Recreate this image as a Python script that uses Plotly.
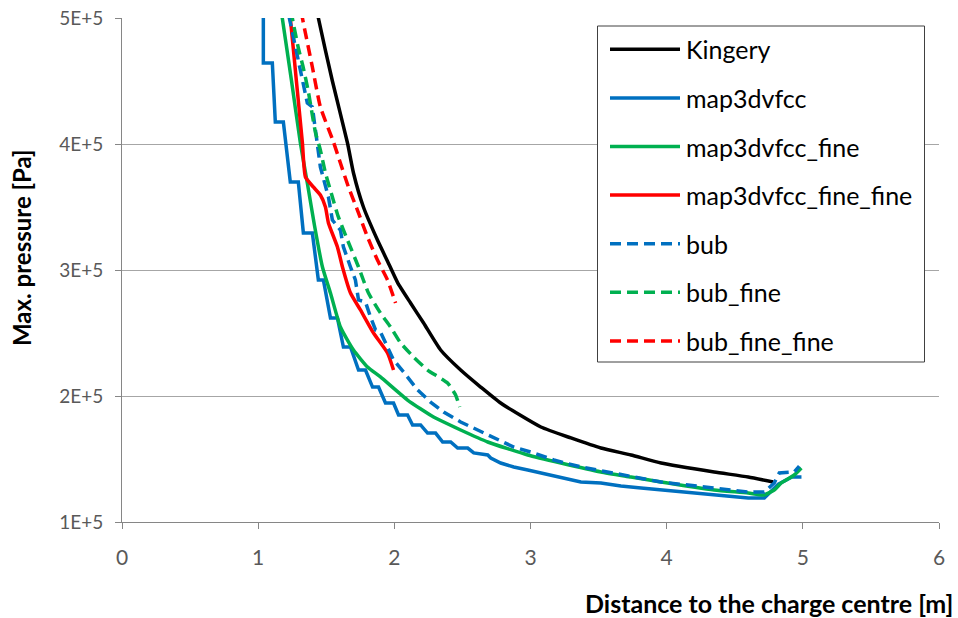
import plotly.graph_objects as go

# Peak overpressure versus distance from the charge centre
kingery_x = [1.43, 1.442, 1.545, 1.656, 1.700, 1.773, 1.876, 1.950, 2.024, 2.119, 2.215,
             2.340, 2.487, 2.634, 2.781, 3.076, 3.297, 3.517, 3.738, 3.959, 4.349, 4.599, 4.783]
kingery_p = [5.08, 5.00, 4.50, 4.008, 3.770, 3.500, 3.238, 3.070, 2.900, 2.738, 2.579,
             2.365, 2.206, 2.071, 1.944, 1.754, 1.667, 1.587, 1.532, 1.468, 1.397, 1.357, 1.317]

map3d_x = [1.038, 1.038, 1.104, 1.126, 1.185, 1.236, 1.295, 1.332, 1.398, 1.442, 1.479, 1.531,
           1.582, 1.626, 1.678, 1.737, 1.788, 1.840, 1.884, 1.935, 1.994, 2.031, 2.097, 2.134,
           2.193, 2.244, 2.303, 2.355, 2.414, 2.465, 2.539, 2.583, 2.686, 2.708, 2.781, 2.877,
           2.980, 3.076, 3.201, 3.370, 3.517, 3.664, 3.812, 3.959, 4.106, 4.349, 4.599, 4.717,
           4.82, 4.92, 4.99]
map3d_p = [5.30, 4.643, 4.643, 4.175, 4.175, 3.698, 3.698, 3.294, 3.294, 2.921, 2.921, 2.619,
           2.619, 2.389, 2.389, 2.206, 2.206, 2.071, 2.071, 1.944, 1.944, 1.849, 1.849, 1.770,
           1.770, 1.706, 1.706, 1.635, 1.635, 1.587, 1.587, 1.548, 1.532, 1.508, 1.468, 1.437,
           1.413, 1.389, 1.357, 1.317, 1.310, 1.286, 1.270, 1.254, 1.238, 1.214, 1.190, 1.190,
           1.300, 1.357, 1.357]

map3d_fine_x = [1.16, 1.177, 1.244, 1.310, 1.361, 1.413, 1.472, 1.531, 1.604, 1.700, 1.803, 1.898,
                2.097, 2.288, 2.487, 2.686, 2.980, 3.223, 3.517, 3.738, 3.959, 4.349, 4.599, 4.709,
                4.790, 4.842, 4.937, 4.989]
map3d_fine_p = [5.12, 5.00, 4.508, 4.008, 3.690, 3.357, 3.024, 2.817, 2.548, 2.365, 2.230, 2.151,
                1.968, 1.833, 1.730, 1.635, 1.532, 1.468, 1.397, 1.357, 1.317, 1.254, 1.230, 1.214,
                1.254, 1.310, 1.373, 1.429]

map3d_ff_x = [1.225, 1.236, 1.280, 1.325, 1.347, 1.405, 1.457, 1.494, 1.516, 1.582, 1.619, 1.678,
              1.751, 1.847, 1.950, 1.994]
map3d_ff_p = [5.08, 5.00, 4.508, 4.008, 3.738, 3.659, 3.595, 3.500, 3.373, 3.183, 3.024, 2.817,
              2.683, 2.500, 2.341, 2.206]

bub_x = [1.225, 1.361, 1.398, 1.435, 1.457, 1.516, 1.545, 1.604, 1.626, 1.678, 1.714, 1.737,
         1.788, 1.825, 1.862, 1.898, 1.950, 1.994, 2.068, 2.171, 2.266, 2.362, 2.487, 2.612,
         2.759, 2.877, 3.024, 3.171, 3.370, 3.569, 3.760, 3.959, 4.349, 4.599, 4.717, 4.790,
         4.827, 4.937, 4.974]
bub_p = [5.02, 4.325, 4.294, 4.008, 3.817, 3.579, 3.397, 3.317, 3.183, 3.024, 2.921, 2.762,
         2.746, 2.627, 2.524, 2.508, 2.389, 2.286, 2.190, 2.048, 1.952, 1.873, 1.794, 1.730,
         1.651, 1.595, 1.548, 1.492, 1.437, 1.397, 1.357, 1.317, 1.270, 1.238, 1.238, 1.310,
         1.389, 1.397, 1.444]

bub_fine_x = [1.245, 1.251, 1.295, 1.332, 1.369, 1.420, 1.457, 1.494, 1.545, 1.589, 1.656, 1.737,
              1.810, 1.898, 1.972, 2.046, 2.141, 2.244, 2.391, 2.450, 2.480]
bub_fine_p = [5.06, 5.00, 4.762, 4.603, 4.413, 4.095, 3.952, 3.770, 3.579, 3.421, 3.238, 3.024,
              2.817, 2.659, 2.548, 2.421, 2.310, 2.206, 2.103, 2.008, 1.913]

bub_ff_x = [1.318, 1.325, 1.398, 1.457, 1.553, 1.604, 1.663, 1.729, 1.803, 1.876, 1.950, 1.994,
            2.009]
bub_ff_p = [5.05, 5.00, 4.611, 4.294, 4.016, 3.849, 3.659, 3.476, 3.262, 3.079, 2.921, 2.786,
            2.738]

series_names = ["Kingery", "map3dvfcc", "map3dvfcc_fine", "map3dvfcc_fine_fine",
                "bub", "bub_fine", "bub_fine_fine"]
series_x = [kingery_x, map3d_x, map3d_fine_x, map3d_ff_x, bub_x, bub_fine_x, bub_ff_x]
series_p = [kingery_p, map3d_p, map3d_fine_p, map3d_ff_p, bub_p, bub_fine_p, bub_ff_p]
series_colors = ["#000000", "#0070C0", "#00B050", "#FF0000", "#0070C0", "#00B050", "#FF0000"]
series_dash = ["solid", "solid", "solid", "solid", "11px,6px", "11px,6px", "11px,6px"]
series_shape = ["spline", "linear", "spline", "spline", "linear", "spline", "spline"]

y_tickvals = [1e5, 2e5, 3e5, 4e5, 5e5]
y_ticktext = ["1E+5", "2E+5", "3E+5", "4E+5", "5E+5"]
x_tickvals = [0, 1, 2, 3, 4, 5, 6]

FONT = "Lato"
GREY_TEXT = "#595959"
AXIS_GREY = "#868686"

fig = go.Figure()
for name, xs, ps, col, dash, shp in zip(series_names, series_x, series_p,
                                        series_colors, series_dash, series_shape):
    fig.add_trace(go.Scatter(
        x=xs, y=[v * 1e5 for v in ps], mode="lines", name=name,
        line=dict(color=col, width=3.5, dash=dash, shape=shp, smoothing=0.5),
        showlegend=False,
    ))

# Boxed legend with long line samples
W, H = 958, 618
L, R, T, B = 122, 19, 18, 96
pw, ph = W - L - R, H - T - B


def px_x(x):
    return (x - L) / pw


def px_y(y):
    return (H - B - y) / ph


shapes = [dict(type="rect", xref="paper", yref="paper",
               x0=px_x(597.5), x1=px_x(924.5), y0=px_y(362), y1=px_y(26),
               line=dict(color="#404040", width=1), fillcolor="white", layer="above")]
annotations = []
for i, (name, col, dash) in enumerate(zip(series_names, series_colors, series_dash)):
    yy = 49.3 + i * 48.6
    shapes.append(dict(type="line", xref="paper", yref="paper",
                       x0=px_x(610), x1=px_x(680), y0=px_y(yy), y1=px_y(yy),
                       line=dict(color=col, width=3.5, dash=dash), layer="above"))
    annotations.append(dict(xref="paper", yref="paper", x=px_x(684), y=px_y(yy),
                            xanchor="left", yanchor="middle", showarrow=False, text=name,
                            font=dict(family=FONT, size=25, color="#000000")))

annotations.append(dict(xref="paper", yref="paper", x=px_x(955), y=px_y(603),
                        xanchor="right", yanchor="middle", showarrow=False,
                        text="<b>Distance to the charge centre [m]</b>",
                        font=dict(family=FONT, size=25, color="#000000")))
annotations.append(dict(xref="paper", yref="paper", x=px_x(21), y=px_y(248),
                        xanchor="center", yanchor="middle", showarrow=False, textangle=-90,
                        text="<b>Max. pressure [Pa]</b>",
                        font=dict(family=FONT, size=24, color="#000000")))

fig.update_layout(
    width=W, height=H,
    margin=dict(l=L, r=R, t=T, b=B, pad=0, autoexpand=False),
    paper_bgcolor="white", plot_bgcolor="white",
    shapes=shapes, annotations=annotations,
    font=dict(family=FONT, color=GREY_TEXT),
)
fig.update_xaxes(
    range=[0, 6], tickvals=x_tickvals, showgrid=False, zeroline=False, automargin=False,
    showline=True, linecolor=AXIS_GREY, linewidth=1,
    ticks="outside", ticklen=6, tickcolor=AXIS_GREY,
    tickfont=dict(family=FONT, size=21, color=GREY_TEXT), ticklabelstandoff=11,
)
fig.update_yaxes(
    range=[1e5, 5e5], tickvals=y_tickvals, ticktext=y_ticktext, automargin=False,
    showgrid=True, gridcolor="#A6A6A6", gridwidth=1, zeroline=False,
    showline=True, linecolor=AXIS_GREY, linewidth=1,
    ticks="outside", ticklen=6, tickcolor=AXIS_GREY,
    tickfont=dict(family=FONT, size=19, color=GREY_TEXT), ticklabelstandoff=8,
)

fig.write_html("out.html")
